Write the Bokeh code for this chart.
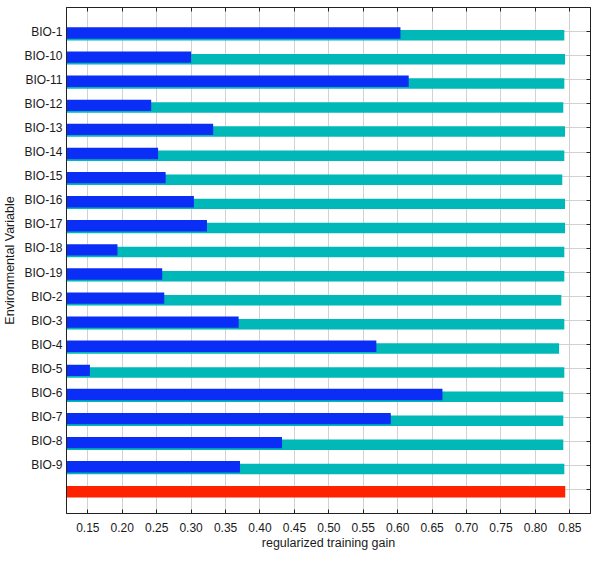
from bokeh.plotting import figure
from bokeh.models import Range1d, FixedTicker, LinearAxis, PrintfTickFormatter, ColumnDataSource
from bokeh.embed import file_html
from bokeh.resources import INLINE

# ---- data ----
labels = ["BIO-1", "BIO-10", "BIO-11", "BIO-12", "BIO-13", "BIO-14", "BIO-15",
          "BIO-16", "BIO-17", "BIO-18", "BIO-19", "BIO-2", "BIO-3", "BIO-4",
          "BIO-5", "BIO-6", "BIO-7", "BIO-8", "BIO-9"]
with_only = [0.604, 0.300, 0.616, 0.242, 0.332, 0.252, 0.263, 0.304, 0.323, 0.193,
             0.258, 0.261, 0.369, 0.569, 0.153, 0.665, 0.590, 0.432, 0.371]
without = [0.842, 0.843, 0.842, 0.8405, 0.843, 0.842, 0.839, 0.843, 0.843, 0.842,
           0.842, 0.8376, 0.842, 0.8344, 0.842, 0.8405, 0.8405, 0.8405, 0.842]
with_all = 0.8433
x_ticks = [0.15, 0.20, 0.25, 0.30, 0.35, 0.40, 0.45, 0.50, 0.55, 0.60, 0.65, 0.70, 0.75, 0.80, 0.85]

X0, X1 = 0.119, 0.88
FONT = "Liberation Sans"
TXT = "#1a1a1a"

n = len(labels)
rows = list(range(n))
all_row = n

src_without = ColumnDataSource(dict(y=[r + 0.15 for r in rows], right=without, left=[X0] * n))
src_with = ColumnDataSource(dict(y=[r + 0.06 for r in rows], right=with_only, left=[X0] * n))
src_all = ColumnDataSource(dict(y=[all_row + 0.096], right=[with_all], left=[X0]))

p = figure(width=591, height=552, output_backend="svg", toolbar_location=None,
           x_range=Range1d(X0, X1), y_range=Range1d(n + 1, -1),
           min_border_left=63, min_border_right=1, min_border_top=7, min_border_bottom=0,
           background_fill_color="white", border_fill_color="white")
p.outline_line_color = "#222222"
p.outline_line_width = 1

p.hbar(y="y", left="left", right="right", height=0.435, source=src_without,
       fill_color="#00B8B8", line_color=None)
p.hbar(y="y", left="left", right="right", height=0.472, source=src_with,
       fill_color="#0A2EF5", line_color=None)
p.hbar(y="y", left="left", right="right", height=0.476, source=src_all,
       fill_color="#FF2200", line_color=None)

yt = FixedTicker(ticks=rows + [all_row])
xt = FixedTicker(ticks=x_ticks)
overrides = {r: labels[r] for r in rows}
overrides[all_row] = ""

# left axis
ya = p.yaxis[0]
ya.ticker = yt
ya.major_label_overrides = overrides
ya.axis_label = "Environmental Variable"
ya.axis_label_text_font = FONT
ya.axis_label_text_font_size = "12.5px"
ya.axis_label_text_font_style = "normal"
ya.axis_label_text_color = TXT
ya.axis_label_standoff = 4
ya.major_label_text_font = FONT
ya.major_label_text_font_size = "12px"
ya.major_label_text_color = TXT
ya.major_label_standoff = 4
ya.major_tick_out = 0
ya.major_tick_in = 0
ya.minor_tick_out = 0
ya.minor_tick_in = 0
ya.axis_line_color = "#222222"

# bottom axis
xa = p.xaxis[0]
xa.ticker = xt
xa.formatter = PrintfTickFormatter(format="%.2f")
xa.axis_label = "regularized training gain"
xa.axis_label_text_font = FONT
xa.axis_label_text_font_size = "12.5px"
xa.axis_label_text_font_style = "normal"
xa.axis_label_text_color = TXT
xa.axis_label_standoff = 1
xa.major_label_text_font = FONT
xa.major_label_text_font_size = "12px"
xa.major_label_text_color = TXT
xa.major_label_standoff = 9
xa.major_tick_out = 0
xa.major_tick_in = 4
xa.minor_tick_out = 0
xa.minor_tick_in = 0
xa.axis_line_color = "#222222"
xa.major_tick_line_color = "#222222"

# top axis (ticks only, empty labels)
ta = LinearAxis(ticker=xt, major_label_overrides={t: "" for t in x_ticks},
                major_label_text_font_size="1px", major_label_standoff=0,
                major_tick_in=4, major_tick_out=0, minor_tick_in=0, minor_tick_out=0,
                axis_line_color="#222222", major_tick_line_color="#222222")
p.add_layout(ta, "above")

# right axis (ticks only, empty labels)
ra = LinearAxis(ticker=yt, major_label_overrides={t: "" for t in rows + [all_row]},
                major_label_text_font_size="1px", major_label_standoff=0,
                major_tick_in=4, major_tick_out=0, minor_tick_in=0, minor_tick_out=0,
                axis_line_color="#222222", major_tick_line_color="#222222")
p.add_layout(ra, "right")

p.xgrid.ticker = xt
p.ygrid.ticker = yt
p.xgrid.grid_line_color = "#d2d2d2"
p.ygrid.grid_line_color = "#d2d2d2"
p.xgrid.grid_line_width = 1
p.ygrid.grid_line_width = 1

open("out.html", "w").write(file_html(p, INLINE))
